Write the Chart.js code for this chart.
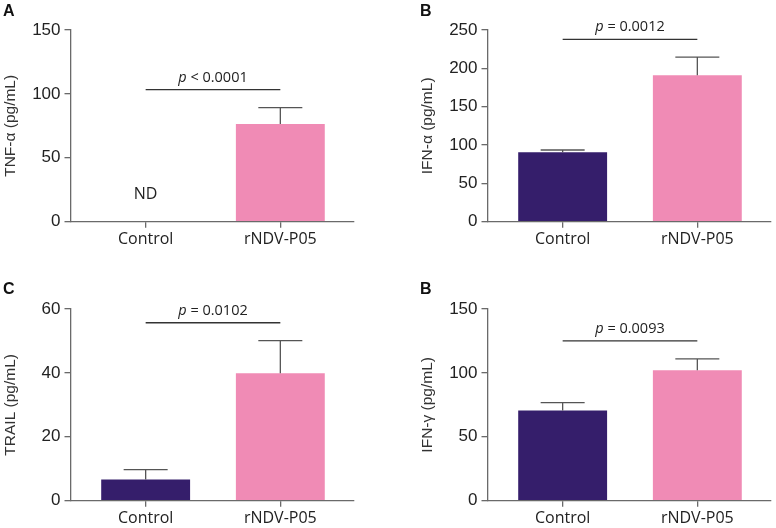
<!DOCTYPE html>
<html>
<head>
<meta charset="utf-8">
<script src="https://cdn.jsdelivr.net/npm/chart.js@4/dist/chart.umd.min.js"></script>
<style>
  body { margin: 0; background: #fff; }
  .panel { position: absolute; width: 388px; height: 264px; }
</style>
</head>
<body>
<div class="panel" style="left:0;top:0"><canvas id="tnf" width="388" height="264"></canvas></div>
<div class="panel" style="left:388px;top:0"><canvas id="ifna" width="388" height="264"></canvas></div>
<div class="panel" style="left:0;top:264px"><canvas id="trail" width="388" height="264"></canvas></div>
<div class="panel" style="left:388px;top:264px"><canvas id="ifng" width="388" height="264"></canvas></div>
<script>
  var categories = ["Control", "rNDV-P05"];

  // means and (upper) SD
  var tnfMean = [null, 76.5];
  var tnfErr = [null, 12.7];
  var ifnaMean = [90.5, 191];
  var ifnaErr = [3, 23.5];
  var trailMean = [6.6, 39.9];
  var trailErr = [3.1, 10.2];
  var ifngMean = [70.5, 102];
  var ifngErr = [6.2, 8.9];

  var pValues = ["< 0.0001", "= 0.0012", "= 0.0102", "= 0.0093"];
  var sigLevels = [103.3, 237.8, 55.7, 125];
  var yMaxes = [150, 250, 60, 150];
  var ySteps = [50, 50, 20, 50];

  var barColors = ['#351e6b', '#f08bb5'];
  var axisColor = '#6a6a6a';

  var panels = [
    { id: 'tnf', letter: 'A', title: 'TNF-α (pg/mL)', mean: tnfMean, err: tnfErr, shift: 0, top: 30, nd: true },
    { id: 'ifna', letter: 'B', title: 'IFN-α (pg/mL)', mean: ifnaMean, err: ifnaErr, shift: 29, top: 30 },
    { id: 'trail', letter: 'C', title: 'TRAIL (pg/mL)', mean: trailMean, err: trailErr, shift: 0, top: 45 },
    { id: 'ifng', letter: 'B', title: 'IFN-γ (pg/mL)', mean: ifngMean, err: ifngErr, shift: 29, top: 45 }
  ];

  // error bars, significance bracket, p text, ND label and panel letter
  var extras = {
    id: 'extras',
    afterDatasetsDraw: function(chart, args, opts) {
      var ctx = chart.ctx;
      var xs = chart.scales.x, ys = chart.scales.y;
      var p = opts.panel;
      ctx.save();
      // error bars
      ctx.strokeStyle = '#555';
      ctx.lineWidth = 1.3;
      for (var i = 0; i < categories.length; i++) {
        if (p.mean[i] == null) continue;
        var x = xs.getPixelForValue(i);
        var y0 = ys.getPixelForValue(p.mean[i]);
        var y1 = ys.getPixelForValue(p.mean[i] + p.err[i]);
        ctx.beginPath();
        ctx.moveTo(x, y0);
        ctx.lineTo(x, y1);
        ctx.moveTo(x - 22, y1);
        ctx.lineTo(x + 22, y1);
        ctx.stroke();
      }
      // bracket
      var xa = xs.getPixelForValue(0), xb = xs.getPixelForValue(1);
      var ys1 = ys.getPixelForValue(sigLevels[p.idx]);
      ctx.strokeStyle = '#333';
      ctx.beginPath();
      ctx.moveTo(xa, ys1);
      ctx.lineTo(xb, ys1);
      ctx.stroke();
      // p text
      ctx.fillStyle = '#222';
      ctx.textBaseline = 'alphabetic';
      ctx.textAlign = 'left';
      var pFont = 'italic 14.5px "Open Sans"';
      var restFont = '14.5px "Open Sans"';
      var rest = ' ' + pValues[p.idx];
      ctx.font = pFont;
      var wp = ctx.measureText('p').width;
      ctx.font = restFont;
      var wr = ctx.measureText(rest).width;
      var start = (xa + xb) / 2 - (wp + wr) / 2;
      ctx.font = pFont;
      ctx.fillText('p', start, ys1 - 8);
      ctx.font = restFont;
      ctx.fillText(rest, start + wp, ys1 - 8);
      // ND label
      if (p.nd) {
        ctx.font = '16px "Open Sans"';
        ctx.textAlign = 'center';
        ctx.textBaseline = 'middle';
        ctx.fillText('ND', xa, ys.getPixelForValue(21));
      }
      // panel letter
      ctx.font = 'bold 16px "Liberation Sans"';
      ctx.textAlign = 'left';
      ctx.textBaseline = 'top';
      ctx.fillStyle = '#111';
      ctx.fillText(p.letter, p.shift + 3, p.top === 30 ? 4 : 18);
      ctx.restore();
    }
  };

  panels.forEach(function(p, idx) {
    p.idx = idx;
    var bottom = p.top === 30 ? 221.7 : 236.7;
    new Chart(document.getElementById(p.id), {
      type: 'bar',
      plugins: [extras],
      data: {
        datasets: [{
          data: categories.map(function(c, i) { return { x: i, y: p.mean[i] }; }),
          backgroundColor: barColors,
          borderWidth: 0,
          barPercentage: 0.66,
          categoryPercentage: 1
        }]
      },
      options: {
        responsive: false,
        animation: false,
        devicePixelRatio: 1,
        layout: { padding: { left: p.shift, top: p.top, right: 30 - p.shift + 4, bottom: 0 } },
        plugins: {
          legend: { display: false },
          tooltip: { enabled: false },
          extras: { panel: p }
        },
        scales: {
          x: {
            type: 'linear',
            offset: false,
            min: -0.558,
            max: 1.547,
            afterBuildTicks: function(s) {
              s.ticks = categories.map(function(c, i) { return { value: i }; });
            },
            afterFit: function(s) { s.height = 264 - bottom; },
            ticks: {
              callback: function(v) { return categories[v]; },
              color: '#222',
              font: { family: '"Open Sans"', size: 16 },
              padding: 2,
              maxRotation: 0,
              autoSkip: false
            },
            grid: { offset: false, drawOnChartArea: false, color: axisColor, lineWidth: 1.3, tickLength: 6 },
            border: { color: axisColor, width: 1.3 }
          },
          y: {
            min: 0,
            max: yMaxes[idx],
            afterFit: function(s) { s.width = 70.5; },
            ticks: {
              stepSize: ySteps[idx],
              color: '#222',
              font: { family: '"Liberation Sans"', size: 17 },
              padding: 4
            },
            title: {
              display: true,
              text: p.title,
              color: '#333',
              font: { family: '"Liberation Sans"', size: 15.5 },
              padding: { top: 1, bottom: 0 }
            },
            grid: { drawOnChartArea: false, color: axisColor, lineWidth: 1.3, tickLength: 6 },
            border: { color: axisColor, width: 1.3 }
          }
        }
      }
    });
  });
</script>
</body>
</html>
